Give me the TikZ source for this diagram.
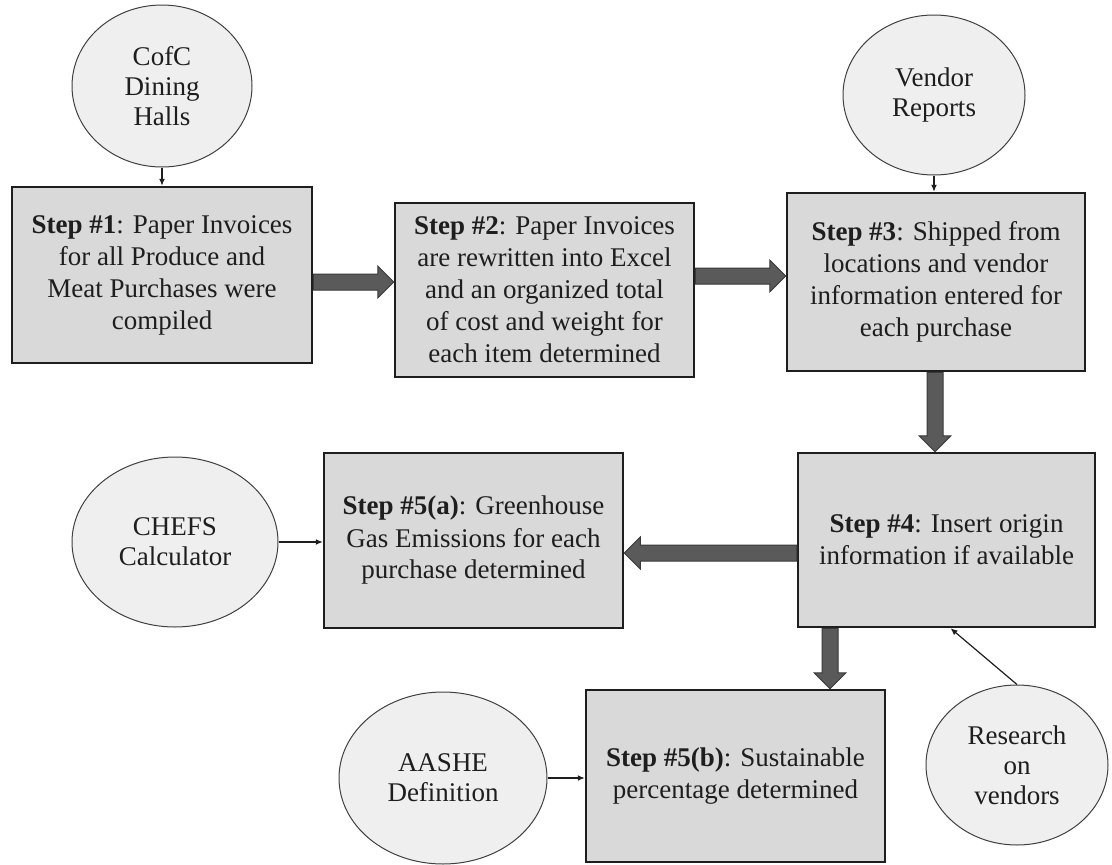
\documentclass[tikz,border=0pt]{standalone}
\usepackage{fontspec}
\setmainfont{Liberation Serif}
\usetikzlibrary{calc,arrows.meta,shapes.geometric}
\definecolor{boxfill}{HTML}{D9D9D9}
\definecolor{circfill}{HTML}{EFEFEF}
\definecolor{arrfill}{HTML}{5A5A5A}
\definecolor{arredge}{HTML}{3A3A3A}
\definecolor{txt}{HTML}{1E1E1E}
\newcommand{\blockarr}[4]{%
  \filldraw[blockarrow] ($(#1)+8*#4$) -- ($(#2)-16*#3+8*#4$) -- ($(#2)-16*#3+16*#4$) -- (#2) -- ($(#2)-16*#3-16*#4$) -- ($(#2)-16*#3-8*#4$) -- ($(#1)-8*#4$) -- cycle;}
\begin{document}
\begin{tikzpicture}[x=1pt,y=-1pt,
  stepbox/.style={draw=txt, line width=2.5pt, fill=boxfill, text=txt, align=center, inner sep=0pt, font=\fontsize{27}{32}\selectfont},
  src/.style={ellipse, draw=black!75, line width=1pt, fill=circfill, text=txt, align=center, inner sep=0pt, font=\fontsize{27}{30}\selectfont},
  thin/.style={draw=txt, line width=1.2pt, -{Latex[length=7pt,width=6pt]}},
  blockarrow/.style={fill=arrfill, draw=arredge, line width=1pt, line join=miter}
]
\useasboundingbox (0,0) rectangle (1112,865);
\fill[white] (0,0) rectangle (1112,865);

% step boxes
\node[stepbox, minimum width=300pt, minimum height=176pt] (b1) at (162,275)
  {\textbf{Step \#1}: Paper Invoices\\for all Produce and\\Meat Purchases were\\compiled};
\node[stepbox, minimum width=299pt, minimum height=174pt] (b2) at (544.5,290)
  {\textbf{Step \#2}: Paper Invoices\\are rewritten into Excel\\and an organized total\\of cost and weight for\\each item determined};
\node[stepbox, minimum width=298pt, minimum height=178pt] (b3) at (936,282)
  {\textbf{Step \#3}: Shipped from\\locations and vendor\\information entered for\\each purchase};
\node[stepbox, minimum width=297pt, minimum height=174pt] (b4) at (946.5,540)
  {\textbf{Step \#4}: Insert origin\\information if available};
\node[stepbox, minimum width=299pt, minimum height=175pt] (b5a) at (473.5,540.5)
  {\textbf{Step \#5(a)}: Greenhouse\\Gas Emissions for each\\purchase determined};
\node[stepbox, minimum width=299pt, minimum height=172pt] (b5b) at (735.5,776)
  {\textbf{Step \#5(b)}: Sustainable\\percentage determined};

% sources
\node[src, minimum width=180pt, minimum height=162pt] (c1) at (162,86) {CofC\\Dining\\Halls};
\node[src, minimum width=182pt, minimum height=160pt] (c2) at (934,95) {Vendor\\Reports};
\node[src, minimum width=206pt, minimum height=170pt] (c3) at (175,542) {CHEFS\\Calculator};
\node[src, minimum width=208pt, minimum height=172pt] (c4) at (443,778) {AASHE\\Definition};
\node[src, minimum width=182pt, minimum height=160pt] (c5) at (1017,765) {Research\\on\\vendors};

% thin connectors
\draw[thin] (c1.south) -- (b1.north);
\draw[thin] (c2.south) -- (c2.south |- b3.north);
\draw[thin] (c3.east) -- (c3.east -| b5a.west);
\draw[thin] (c4.east) -- (c4.east -| b5b.west);
\coordinate (r4) at ($(b4.south)+(4,0)$);
\draw[thin] (c5.north) -- (r4);

% block arrow anchors
\coordinate (y282) at (0,282);
\coordinate (y276) at (0,276);
\coordinate (y553) at (0,553);
\coordinate (x935) at (935,0);
\coordinate (x830) at (830,0);
\coordinate (s12) at (b1.east |- y282);
\coordinate (e12) at (b2.west |- y282);
\coordinate (s23) at (b2.east |- y276);
\coordinate (e23) at (b3.west |- y276);
\coordinate (s34) at (x935 |- b3.south);
\coordinate (e34) at (x935 |- b4.north);
\coordinate (s45a) at (b4.west |- y553);
\coordinate (e45a) at (b5a.east |- y553);
\coordinate (s45b) at (x830 |- b4.south);
\coordinate (e45b) at (x830 |- b5b.north);

\blockarr{s12}{e12}{(1,0)}{(0,1)}
\blockarr{s23}{e23}{(1,0)}{(0,1)}
\blockarr{s34}{e34}{(0,1)}{(1,0)}
\blockarr{s45a}{e45a}{(-1,0)}{(0,1)}
\blockarr{s45b}{e45b}{(0,1)}{(1,0)}
\end{tikzpicture}
\end{document}
